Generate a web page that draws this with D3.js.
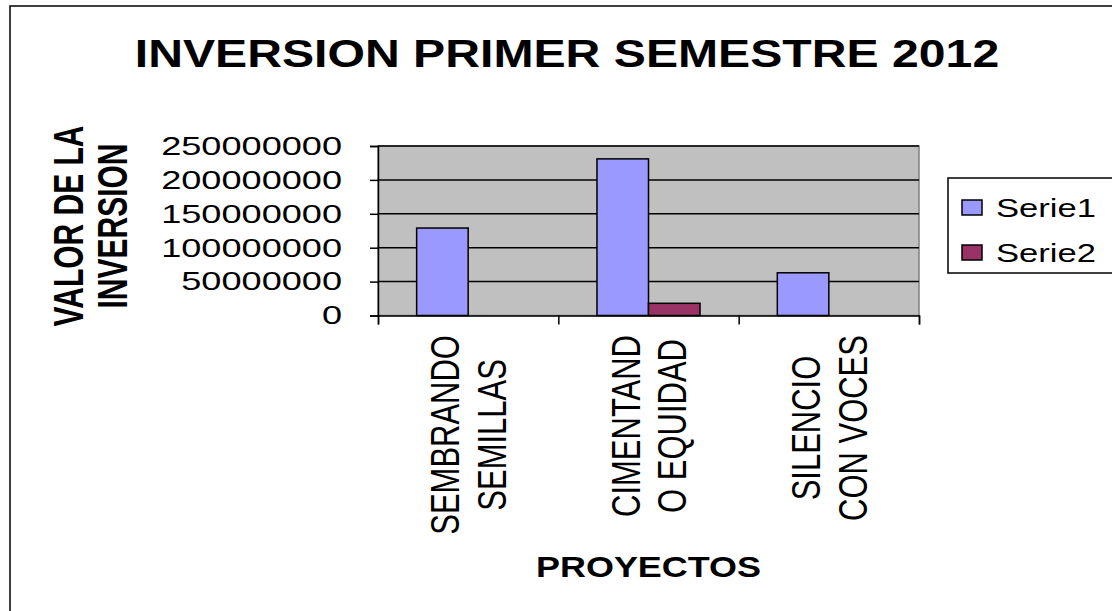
<!DOCTYPE html>
<html>
<head>
<meta charset="utf-8">
<script src="https://cdn.jsdelivr.net/npm/d3@7"></script>
<style>
  body { margin: 0; background: #fff; }
  text { font-family: "Liberation Sans", Arial, sans-serif; fill: #000; }
</style>
</head>
<body>
<svg width="1112" height="611"></svg>
<script>
// data
const categories = ['SEMBRANDO SEMILLAS', 'CIMENTANDO EQUIDAD', 'SILENCIO CON VOCES'];
const categoryLines = [['SEMBRANDO', 'SEMILLAS'], ['CIMENTAND', 'O EQUIDAD'], ['SILENCIO', 'CON VOCES']];
const seriesNames = ['Serie1', 'Serie2'];
const serie1 = [129000000, 231000000, 63000000];
const serie2 = [0, 18000000, 0];
const yTicks = [0, 50000000, 100000000, 150000000, 200000000, 250000000];
const colors = ['#9999ff', '#993366'];

const svg = d3.select('svg');

const plot = { left: 378, right: 919, top: 146, bottom: 315.5 };

// chart border
svg.append('rect')
  .attr('x', 10).attr('y', 6)
  .attr('width', 1115).attr('height', 620)
  .attr('fill', '#fff')
  .attr('stroke', '#000')
  .attr('stroke-width', 1.5);

const x0 = d3.scaleBand().domain(categories).range([plot.left, plot.right]);
// gap width 150% of a bar
const barW = x0.bandwidth() / (seriesNames.length + 1.5);
const x1 = d3.scaleBand().domain(seriesNames)
  .range([barW * 0.75, barW * 0.75 + barW * seriesNames.length]);
const xEdge = d3.scaleLinear().domain([0, categories.length]).range([plot.left, plot.right]);
const y = d3.scaleLinear().domain([0, 250000000]).range([plot.bottom, plot.top]);

// plot background
svg.append('rect')
  .attr('x', plot.left).attr('y', plot.top)
  .attr('width', plot.right - plot.left).attr('height', plot.bottom - plot.top)
  .attr('fill', '#c0c0c0')
  .attr('stroke', '#808080')
  .attr('stroke-width', 1.5);

// gridlines
svg.append('g')
  .selectAll('line')
  .data(yTicks.slice(1))
  .enter()
  .append('line')
  .attr('x1', plot.left).attr('x2', plot.right)
  .attr('y1', d => y(d)).attr('y2', d => y(d))
  .attr('stroke', '#000')
  .attr('stroke-width', 1.5);

// bars
const rows = categories.map((c, i) => ({ cat: c, values: [serie1[i], serie2[i]] }));
svg.append('g')
  .selectAll('g')
  .data(rows)
  .enter()
  .append('g')
  .attr('transform', d => `translate(${x0(d.cat)},0)`)
  .selectAll('rect')
  .data(d => d.values.map((v, j) => ({ name: seriesNames[j], v, j })).filter(d => d.v > 0))
  .enter()
  .append('rect')
  .attr('x', d => x1(d.name))
  .attr('width', x1.bandwidth())
  .attr('y', d => y(d.v))
  .attr('height', d => y(0) - y(d.v))
  .attr('fill', d => colors[d.j])
  .attr('stroke', '#000')
  .attr('stroke-width', 1.5);

// y axis
const yAxis = svg.append('g')
  .attr('transform', `translate(${plot.left},0)`)
  .call(d3.axisLeft(y).tickValues(yTicks).tickSize(8).tickFormat(d => String(d)));
yAxis.select('.domain').attr('stroke', '#000').attr('stroke-width', 1.5);
yAxis.selectAll('.tick line').attr('stroke', '#000').attr('stroke-width', 1.5);
yAxis.selectAll('.tick text')
  .attr('x', 0)
  .attr('font-size', 26)
  .attr('font-family', '"Liberation Sans", Arial, sans-serif')
  .attr('fill', '#000')
  .attr('transform', 'translate(-36,0) scale(1.39,1)');

// x axis (ticks on category edges)
const xAxis = svg.append('g')
  .attr('transform', `translate(0,${plot.bottom})`)
  .call(d3.axisBottom(xEdge).tickValues(d3.range(categories.length + 1)).tickSize(9).tickFormat(''));
xAxis.select('.domain').attr('stroke', '#000').attr('stroke-width', 1.5);
xAxis.selectAll('.tick line').attr('stroke', '#000').attr('stroke-width', 1.5);

// category labels, rotated, stretched like the original
const catFont = 31;
const catSx = 1.31;
categories.forEach((c, i) => {
  const g = svg.append('g');
  const texts = g.selectAll('text')
    .data(categoryLines[i])
    .enter()
    .append('text')
    .attr('font-size', catFont)
    .attr('text-anchor', 'middle')
    .attr('x', 0)
    .attr('y', (d, k) => k === 0 ? -9 / catSx : 38 / catSx)
    .text(d => d);
  const maxLen = d3.max(texts.nodes(), n => n.getComputedTextLength());
  const cx = x0(c) + x0.bandwidth() / 2;
  g.attr('transform', `translate(${cx},${335 + maxLen / 2}) scale(${catSx},1) rotate(-90)`);
});

// title
svg.append('text')
  .attr('font-size', 39)
  .attr('font-weight', 'bold')
  .attr('text-anchor', 'middle')
  .attr('transform', 'translate(567,67) scale(1.235,1)')
  .text('INVERSION PRIMER SEMESTRE 2012');

// y axis title
svg.append('g')
  .attr('transform', 'translate(83,226) scale(1.4,1) rotate(-90)')
  .selectAll('text')
  .data(['VALOR DE LA', 'INVERSION'])
  .enter()
  .append('text')
  .attr('font-size', 30)
  .attr('font-weight', 'bold')
  .attr('text-anchor', 'middle')
  .attr('y', (d, k) => k * 44 / 1.4)
  .text(d => d);

// x axis title
svg.append('text')
  .attr('font-size', 29)
  .attr('font-weight', 'bold')
  .attr('text-anchor', 'middle')
  .attr('transform', `translate(${(plot.left + plot.right) / 2},577) scale(1.24,1)`)
  .text('PROYECTOS');

// legend
const legend = svg.append('g').attr('transform', 'translate(948,178)');
legend.append('rect')
  .attr('width', 200).attr('height', 95)
  .attr('fill', '#fff')
  .attr('stroke', '#000')
  .attr('stroke-width', 1.5);
const item = legend.selectAll('g.item')
  .data(seriesNames)
  .enter()
  .append('g')
  .attr('class', 'item')
  .attr('transform', (d, i) => `translate(0,${30 + i * 45})`);
item.append('rect')
  .attr('x', 14).attr('y', -8)
  .attr('width', 20).attr('height', 15)
  .attr('fill', (d, i) => colors[i])
  .attr('stroke', '#000')
  .attr('stroke-width', 1.5);
item.append('text')
  .attr('font-size', 26)
  .attr('dy', '0.36em')
  .attr('transform', 'translate(48,0) scale(1.33,1)')
  .text(d => d);
</script>
</body>
</html>
